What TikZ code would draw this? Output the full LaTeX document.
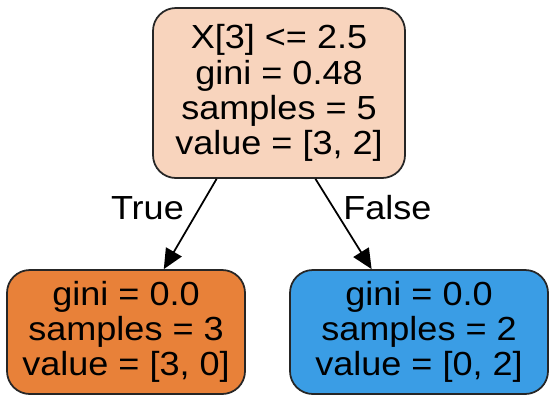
\documentclass[tikz,border=0pt]{standalone}
\usepackage{fontspec}
\setmainfont{Liberation Sans}[FakeStretch=1.08]
\usepackage{tikz}
\usetikzlibrary{arrows.meta,positioning}
\definecolor{rootpeach}{RGB}{248,212,189}
\definecolor{leaforange}{RGB}{232,129,57}
\definecolor{leafblue}{RGB}{58,157,229}

\begin{document}
\begin{tikzpicture}[
  tnode/.style={draw=black!85,line width=1pt,rounded corners=13pt,
    font=\fontsize{19pt}{20pt}\selectfont,align=center,inner sep=0pt},
  edge/.style={line width=1pt,-{Triangle[length=0.4cm,width=0.36cm]}},
  elabel/.style={font=\fontsize{19pt}{20pt}\selectfont,inner sep=0pt}
]
  \useasboundingbox (0,0) rectangle (11,-7.9);
  \node[tnode,fill=rootpeach,minimum width=5.04cm,minimum height=3.4cm] (root) at (5.58,-1.86)
    {X[3] <= 2.5\\gini = 0.48\\samples = 5\\value = [3, 2]};
  \node[tnode,fill=leaforange,minimum width=4.76cm,minimum height=2.48cm] (lleaf) at (2.52,-6.64)
    {gini = 0.0\\samples = 3\\value = [3, 0]};
  \node[tnode,fill=leafblue,minimum width=5.16cm,minimum height=2.48cm] (rleaf) at (8.38,-6.64)
    {gini = 0.0\\samples = 2\\value = [0, 2]};
  % split edges
  \draw[edge] (root.234) -- node[elabel,pos=0.32,left=0.3cm] {True} (lleaf.59);
  \draw[edge] (root.293) -- node[elabel,pos=0.32,right=0.18cm] {False} (rleaf.127);
\end{tikzpicture}
\end{document}
